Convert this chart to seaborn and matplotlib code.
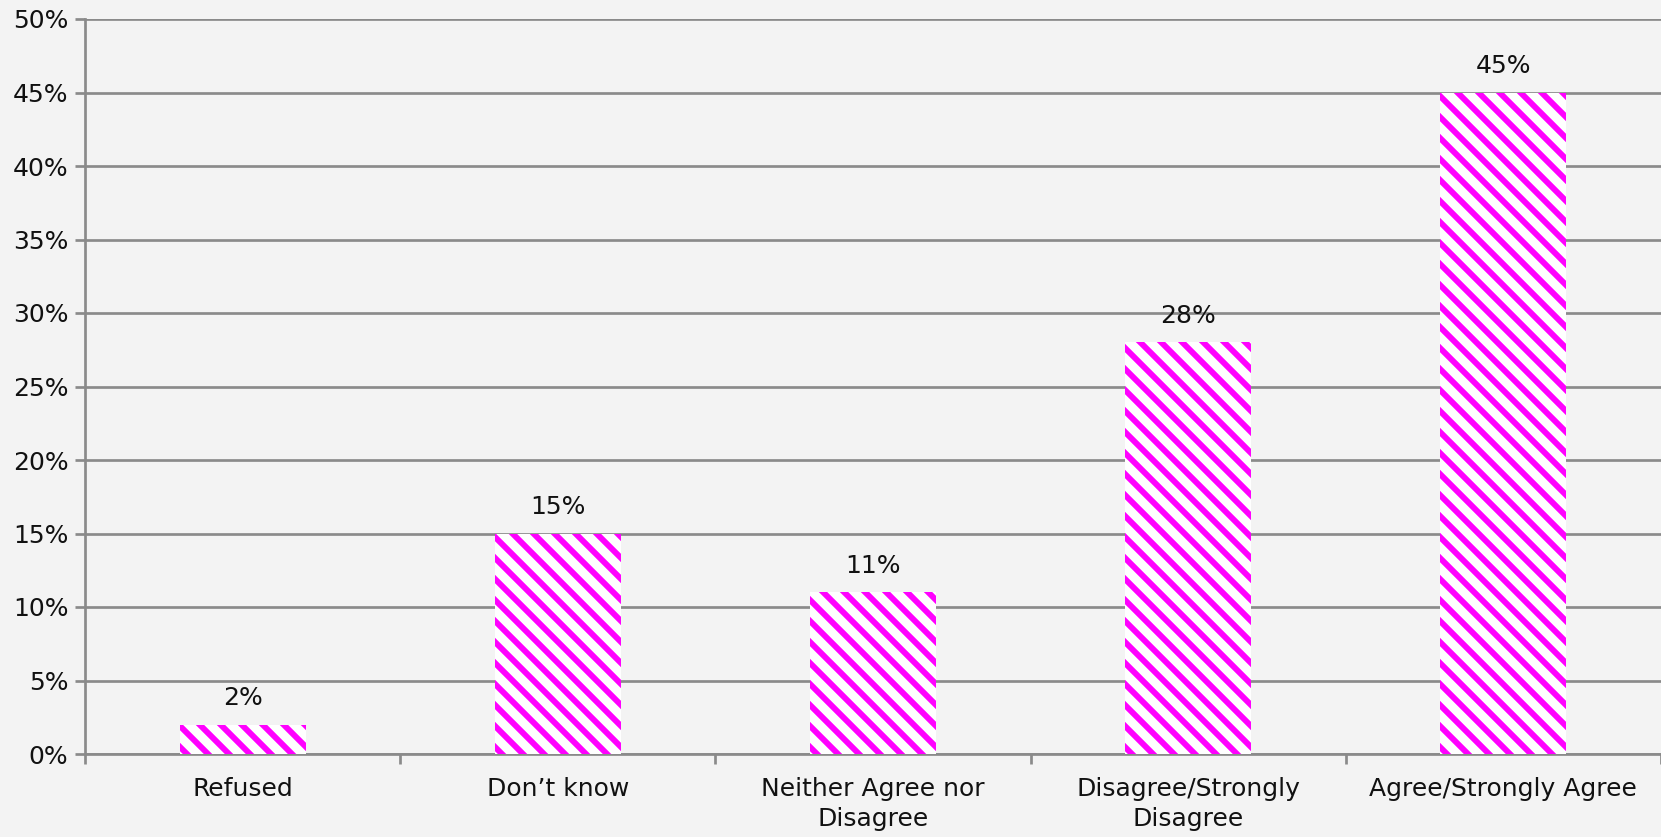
import matplotlib
matplotlib.use("Agg")
import matplotlib.pyplot as plt
import seaborn as sns
import pandas as pd
from matplotlib.ticker import FixedLocator, PercentFormatter

categories = ["Refused", "Don\u2019t know", "Neither Agree nor\nDisagree",
              "Disagree/Strongly\nDisagree", "Agree/Strongly Agree"]
shares = [2, 15, 11, 28, 45]
y_ticks = [0, 5, 10, 15, 20, 25, 30, 35, 40, 45, 50]

# dpi chosen so the hatch tile gives ~21px stripe spacing like the original
DPI = 126
K = 150 / DPI

sns.set_theme(style="white")
plt.rcParams["font.family"] = ["DejaVu Sans"]
plt.rcParams["hatch.linewidth"] = 3.4
plt.rcParams["hatch.color"] = "#ff00ff"

BG = "#f3f3f3"
GRID = "#8a8a8a"
FS = 12 * K
LW = 1.3 * K

df = pd.DataFrame({"category": categories, "share": shares})

fig = plt.figure(figsize=(1661 / DPI, 837 / DPI), dpi=DPI, facecolor=BG)
ax = fig.add_axes([85 / 1661, 1 - 754 / 837, 1 - 85 / 1661, (754 - 19) / 837])
ax.set_facecolor(BG)

sns.barplot(data=df, x="category", y="share", color="white", width=0.4,
            saturation=1, ax=ax, zorder=3)
for bar in ax.patches:
    bar.set_hatch("\\\\")
    bar.set_edgecolor("#ff00ff")
    bar.set_linewidth(0)

for bar, v in zip(ax.patches, shares):
    ax.text(bar.get_x() + bar.get_width() / 2, v + 1.0, f"{v}%",
            ha="center", va="bottom", fontsize=FS, color="#111111", zorder=4)

ax.set_ylim(0, 50)
ax.set_xlim(-0.5, len(categories) - 0.5)
ax.set_yticks(y_ticks)
ax.yaxis.set_major_formatter(PercentFormatter(decimals=0))
ax.yaxis.grid(True, color=GRID, linewidth=LW)
ax.set_axisbelow(True)

ax.xaxis.set_minor_locator(FixedLocator([i - 0.5 for i in range(len(categories) + 1)]))
ax.tick_params(axis="x", which="major", length=0, labelsize=FS, pad=11 * K,
               labelcolor="#111111")
ax.tick_params(axis="x", which="minor", length=5 * K, width=LW, color=GRID,
               direction="out", bottom=True)
ax.tick_params(axis="y", length=5 * K, width=LW, color=GRID, left=True,
               labelsize=FS, labelcolor="#111111", pad=3 * K)
for lbl in ax.get_xticklabels():
    lbl.set_linespacing(1.3)

for side in ["top", "right"]:
    ax.spines[side].set_visible(False)
for side in ["left", "bottom"]:
    ax.spines[side].set_color(GRID)
    ax.spines[side].set_linewidth(LW)

ax.set_xlabel("")
ax.set_ylabel("")

fig.savefig("out.png", dpi=DPI, facecolor=BG)
